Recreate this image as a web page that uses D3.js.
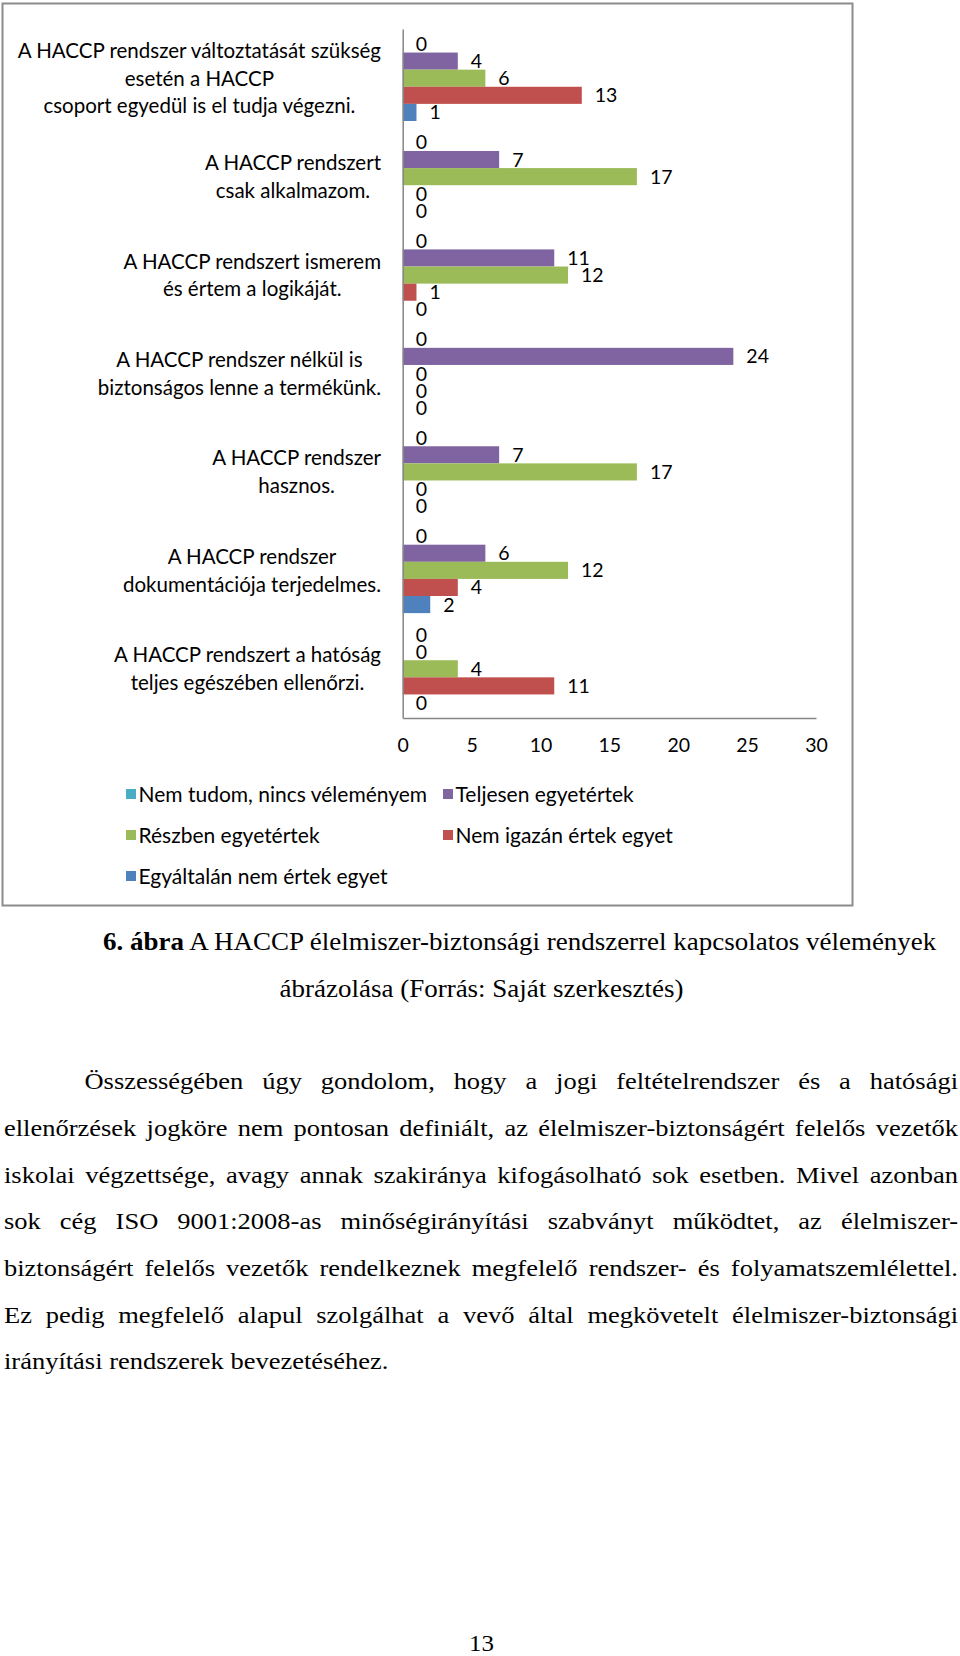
<!DOCTYPE html>
<html>
<head>
<meta charset="utf-8">
<script src="https://cdn.jsdelivr.net/npm/d3@7/dist/d3.min.js"></script>
<style>
  html, body { margin: 0; padding: 0; background: #fff; }
  svg { display: block; }
</style>
</head>
<body>
<svg id="page" width="960" height="1656"></svg>
<script>
// ---------------- DATA ----------------
const categories = [
  ["A HACCP rendszer változtatását szükség", "esetén a HACCP", "csoport egyedül is el tudja végezni."],
  ["A HACCP rendszert", "csak alkalmazom."],
  ["A HACCP rendszert ismerem", "és értem a logikáját."],
  ["A HACCP rendszer nélkül is", "biztonságos lenne a termékünk."],
  ["A HACCP rendszer", "hasznos."],
  ["A HACCP rendszer", "dokumentációja terjedelmes."],
  ["A HACCP rendszert a hatóság", "teljes egészében ellenőrzi."]
];
const seriesNames = [
  "Nem tudom, nincs véleményem",
  "Teljesen egyetértek",
  "Részben egyetértek",
  "Nem igazán értek egyet",
  "Egyáltalán nem értek egyet"
];
const seriesColors = ["#4BACC6", "#8064A2", "#9BBB59", "#C0504D", "#4F81BD"];
const nemTudom    = [0, 0, 0, 0, 0, 0, 0];
const teljesen    = [4, 7, 11, 24, 7, 6, 0];
const reszben     = [6, 17, 12, 0, 17, 12, 4];
const nemIgazan   = [13, 0, 1, 0, 0, 4, 11];
const egyaltalan  = [1, 0, 0, 0, 0, 2, 0];
const seriesValues = [nemTudom, teljesen, reszben, nemIgazan, egyaltalan];
const xTicks = [0, 5, 10, 15, 20, 25, 30];

const captionBold = "6. ábra";
const captionRest = " A HACCP élelmiszer-biztonsági rendszerrel kapcsolatos vélemények";
const captionLine2 = "ábrázolása (Forrás: Saját szerkesztés)";
const paragraphLines = [
  "Összességében úgy gondolom, hogy a jogi feltételrendszer és a hatósági",
  "ellenőrzések jogköre nem pontosan definiált, az élelmiszer-biztonságért felelős vezetők",
  "iskolai végzettsége, avagy annak szakiránya kifogásolható sok esetben. Mivel azonban",
  "sok cég ISO 9001:2008-as minőségirányítási szabványt működtet, az élelmiszer-",
  "biztonságért felelős vezetők rendelkeznek megfelelő rendszer- és folyamatszemlélettel.",
  "Ez pedig megfelelő alapul szolgálhat a vevő által megkövetelt élelmiszer-biztonsági",
  "irányítási rendszerek bevezetéséhez."
];
const pageNumber = "13";

// ---------------- CHART ----------------
const svg = d3.select("#page");
const chartFont = "Lato, 'Open Sans', sans-serif";
const numFontSize = 19.5;
const catFontSize = 20.5;
const legendFontSize = 21;

// frame
svg.append("rect").attr("x", 2.5).attr("y", 3.5).attr("width", 850).attr("height", 902)
  .attr("fill", "#fff").attr("stroke", "#8c8c8c").attr("stroke-width", 2);

const x = d3.scaleLinear().domain([0, 30]).range([402.7, 816]);
const yCat = d3.scaleBand().domain(d3.range(categories.length)).range([29, 718]).padding(0);
const gap = yCat.bandwidth() * 0.0655;
const ySer = d3.scaleBand().domain(d3.range(seriesNames.length))
  .range([gap, yCat.bandwidth() - gap]).padding(0);

const plot = svg.append("g");

// bars + data labels
seriesValues.forEach((vals, si) => {
  const g = plot.append("g");
  g.selectAll("rect").data(vals).join("rect")
    .attr("x", x(0))
    .attr("y", (d, ci) => yCat(ci) + ySer(si))
    .attr("width", d => x(d) - x(0))
    .attr("height", ySer.bandwidth())
    .attr("fill", seriesColors[si]);
  g.selectAll("text").data(vals).join("text")
    .attr("x", d => x(d) + 13)
    .attr("y", (d, ci) => yCat(ci) + ySer(si) + ySer.bandwidth() / 2)
    .attr("dy", "0.36em")
    .attr("font-family", chartFont).attr("font-size", numFontSize)
    .attr("fill", "#000")
    .text(d => d);
});

// axes
const axisColor = "#868686";
const xAxis = d3.axisBottom(x).tickValues(xTicks).tickSize(0).tickPadding(20);
const xg = svg.append("g").attr("transform", `translate(0,${718})`).call(xAxis);
xg.select(".domain").attr("stroke", axisColor).attr("stroke-width", 1.5);
xg.selectAll("text").attr("font-family", chartFont).attr("font-size", numFontSize).attr("fill", "#000")
  .attr("dy", "0.71em");

const yAxis = d3.axisLeft(yCat).tickSize(0).tickFormat("");
const yg = svg.append("g").attr("transform", `translate(${x(0)},0)`).call(yAxis);
yg.select(".domain").attr("stroke", axisColor).attr("stroke-width", 1.5);

// category labels (centered blocks, right aligned at 381)
const lineH = 27.7;
categories.forEach((lines, ci) => {
  const g = svg.append("g");
  const texts = lines.map(l => g.append("text")
    .attr("font-family", chartFont).attr("font-size", catFontSize).attr("fill", "#000")
    .attr("text-anchor", "middle").text(l));
  const maxW = d3.max(texts, t => t.node().getComputedTextLength());
  const cx = 381 - maxW / 2;
  const cy = yCat(ci) + yCat.bandwidth() / 2;
  texts.forEach((t, i) => {
    t.attr("x", cx).attr("y", cy + (i - (lines.length - 1) / 2) * lineH).attr("dy", "0.36em");
  });
});

// legend
const legendPos = [
  [126, 794], [443, 794],
  [126, 835], [443, 835],
  [126, 876]
];
seriesNames.forEach((name, i) => {
  const [lx, ly] = legendPos[i];
  svg.append("rect").attr("x", lx).attr("y", ly - 5).attr("width", 10).attr("height", 10)
    .attr("fill", seriesColors[i]);
  svg.append("text").attr("x", lx + 12.5).attr("y", ly).attr("dy", "0.36em")
    .attr("font-family", chartFont).attr("font-size", legendFontSize).attr("fill", "#000")
    .text(name);
});

// ---------------- CAPTION & TEXT ----------------
const serif = "'Liberation Serif', 'Times New Roman', serif";
const vScale = 0.9;
const capG = svg.append("g").attr("transform", `translate(103,950) scale(1,${vScale})`);
const cap = capG.append("text").attr("x", 0).attr("y", 0)
  .attr("font-family", serif).attr("font-size", 27).attr("fill", "#000");
cap.append("tspan").attr("font-weight", "bold").text(captionBold);
cap.append("tspan").text(captionRest);
svg.append("g").attr("transform", `translate(481.5,997) scale(1,${vScale})`)
  .append("text").attr("x", 0).attr("y", 0).attr("text-anchor", "middle")
  .attr("font-family", serif).attr("font-size", 27).attr("fill", "#000").text(captionLine2);

// justified paragraph
const paraSize = 26.5;
const lineStep = 46.67;
paragraphLines.forEach((line, li) => {
  const words = line.split(" ");
  const left = li === 0 ? 84.5 : 4;
  const right = 958;
  const baseY = 1089.3 + li * lineStep;
  const g = svg.append("g").attr("transform", `translate(0,${baseY}) scale(1,${vScale})`);
  const ts = words.map(w => g.append("text").attr("font-family", serif).attr("font-size", paraSize)
    .attr("fill", "#000").attr("y", 0).text(w));
  const widths = ts.map(t => t.node().getComputedTextLength());
  const total = d3.sum(widths);
  const last = li === paragraphLines.length - 1;
  const spaceW = last ? paraSize * 0.25 : Math.max(paraSize * 0.12, (right - left - total) / (words.length - 1));
  let cx = left;
  ts.forEach((t, i) => { t.attr("x", cx); cx += widths[i] + spaceW; });
});

svg.append("g").attr("transform", `translate(481.5,1651) scale(1,${vScale})`)
  .append("text").attr("x", 0).attr("y", 0).attr("text-anchor", "middle")
  .attr("font-family", serif).attr("font-size", 25).attr("fill", "#000").text(pageNumber);
</script>
</body>
</html>
